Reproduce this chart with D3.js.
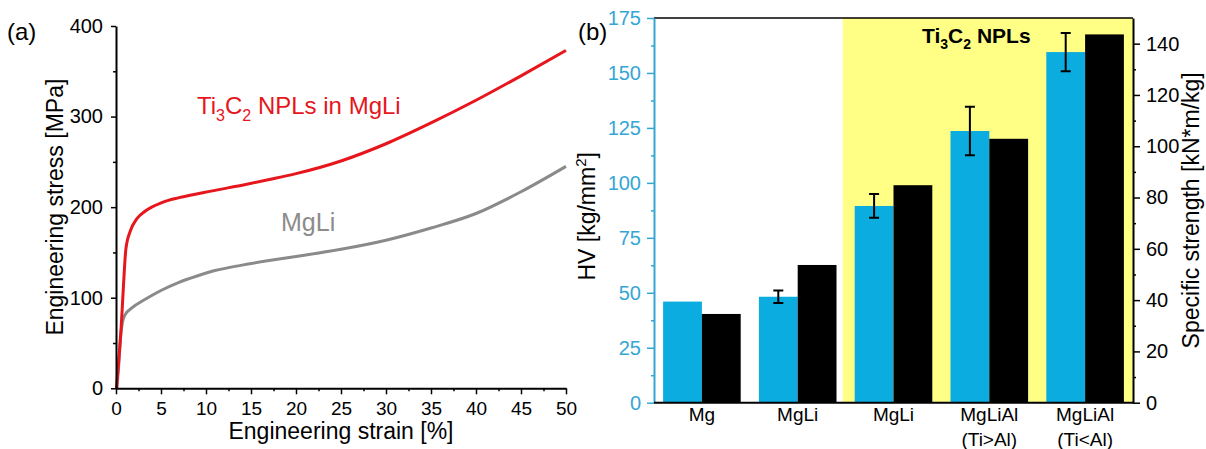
<!DOCTYPE html>
<html>
<head>
<meta charset="utf-8">
<script src="https://cdn.jsdelivr.net/npm/d3@7"></script>
<style>
    body { margin: 0; background: #ffffff; }
    svg { display: block; font-family: "Liberation Sans", Arial, sans-serif; }
    .axis text { font-family: "Liberation Sans", Arial, sans-serif; }
</style>
</head>
<body>
<div id="chart"></div>
<script>
// (a) tensile curves, [strain %, stress MPa]
const compositeCurve = [
    [0.05, 0], [0.3, 30], [0.59, 70], [0.85, 117], [1.1, 154], [1.6, 174], [2.3, 187],
    [3.3, 196], [5.1, 205], [7, 210.5], [10.7, 218], [14.4, 225], [17.3, 231], [20, 237],
    [25, 251], [30, 270], [35, 293], [40, 318], [45, 345], [50, 373]
];
const mgliCurve = [
    [0.1, 0], [0.3, 25], [0.5, 55], [0.7, 72], [1.0, 81], [1.8, 89], [3.2, 98], [5, 108],
    [7, 117], [9, 124], [11, 130], [14, 136], [17, 141], [20, 145.5], [25, 153.5],
    [30, 163.5], [35, 177], [40, 193], [45, 217], [50, 245]
];
const strainTicks = [0, 5, 10, 15, 20, 25, 30, 35, 40, 45, 50];
const stressTicks = [0, 100, 200, 300, 400];

// (b) hardness and specific strength
const categories = ["Mg", "MgLi", "MgLi-Ti", "MgLiAl-1", "MgLiAl-2"];
const categoryLabels = [["Mg"], ["MgLi"], ["MgLi"], ["MgLiAl", "(Ti>Al)"], ["MgLiAl", "(Ti<Al)"]];
const hardness = [46, 48.2, 89.5, 123.6, 159.5];
const hardnessErr = [null, 2.8, 5.4, 11, 8.7];
const specStrength = [34.6, 53.7, 84.8, 102.9, 143.6];
const hvTicks = [0, 25, 50, 75, 100, 125, 150, 175];
const ssTicks = [0, 20, 40, 60, 80, 100, 120, 140];

const width = 1206, height = 449;

const svg = d3.select("#chart").append("svg")
    .attr("width", width)
    .attr("height", height);

svg.append("rect").attr("width", width).attr("height", height).attr("fill", "#ffffff");

// ---------- panel (a) ----------
const paramsA = { left: 116, right: 566, top: 26, bottom: 388.3 };

const xA = d3.scaleLinear().domain([0, 50]).range([paramsA.left, paramsA.right]);
const yA = d3.scaleLinear().domain([0, 400]).range([paramsA.bottom, paramsA.top]);

const line = d3.line()
    .x(d => xA(d[0]))
    .y(d => yA(d[1]))
    .curve(d3.curveMonotoneX);

svg.append("path").datum(mgliCurve)
    .attr("d", line).attr("fill", "none")
    .attr("stroke", "#8a8a8a").attr("stroke-width", 3);

svg.append("path").datum(compositeCurve)
    .attr("d", line).attr("fill", "none")
    .attr("stroke", "#e6161c").attr("stroke-width", 3);

const styleAxis = (g, color, width, size) => {
    g.select(".domain").attr("stroke", color).attr("stroke-width", width);
    g.selectAll(".tick line").attr("stroke", color).attr("stroke-width", 1.5);
    g.selectAll(".tick text").attr("fill", color).style("font-size", size + "px");
};

svg.append("g").attr("class", "axis")
    .attr("transform", `translate(${paramsA.left},0)`)
    .call(d3.axisLeft(yA).tickValues([50, 150, 250, 350]).tickSize(3).tickFormat(""))
    .call(g => g.select(".domain").remove())
    .call(g => g.selectAll("line").attr("stroke-width", 1.5));

svg.append("g").attr("class", "axis")
    .attr("transform", `translate(0,${paramsA.bottom})`)
    .call(d3.axisBottom(xA).tickValues(d3.range(2.5, 50, 5)).tickSize(3).tickFormat(""))
    .call(g => g.select(".domain").remove())
    .call(g => g.selectAll("line").attr("stroke-width", 1.5));

svg.append("g").attr("class", "axis")
    .attr("transform", `translate(${paramsA.left},0)`)
    .call(d3.axisLeft(yA).tickValues(stressTicks).tickSize(5).tickSizeOuter(0).tickPadding(8))
    .call(g => styleAxis(g, "#000", 2, 20));

svg.append("g").attr("class", "axis")
    .attr("transform", `translate(0,${paramsA.bottom})`)
    .call(d3.axisBottom(xA).tickValues(strainTicks).tickSize(6).tickSizeOuter(0).tickPadding(7))
    .call(g => styleAxis(g, "#000", 2, 19));

svg.append("text")
    .attr("x", (paramsA.left + paramsA.right) / 2).attr("y", 439)
    .attr("text-anchor", "middle").style("font-size", "23px")
    .text("Engineering strain [%]");

svg.append("text")
    .attr("transform", `translate(63,${(paramsA.top + paramsA.bottom) / 2}) rotate(-90)`)
    .attr("text-anchor", "middle").style("font-size", "23px")
    .text("Engineering stress [MPa]");

const redLabel = svg.append("text")
    .attr("x", 197).attr("y", 114)
    .attr("fill", "#e6161c").style("font-size", "24px");
redLabel.append("tspan").text("Ti");
redLabel.append("tspan").attr("dy", 7).style("font-size", "16px").text("3");
redLabel.append("tspan").attr("dy", -7).text("C");
redLabel.append("tspan").attr("dy", 7).style("font-size", "16px").text("2");
redLabel.append("tspan").attr("dy", -7).text(" NPLs in MgLi");

svg.append("text")
    .attr("x", 281).attr("y", 231)
    .attr("fill", "#8c8c8c").style("font-size", "25px")
    .text("MgLi");

svg.append("text").attr("x", 7).attr("y", 40).style("font-size", "24px").text("(a)");

// ---------- panel (b) ----------
const paramsB = { left: 654, right: 1133, top: 18, bottom: 402.7 };
const blue = "#0badE0";
const axisBlue = "#34a6d4";

const x0 = d3.scaleBand()
    .domain(categories)
    .range([paramsB.left, paramsB.right])
    .paddingInner(0.19)
    .paddingOuter(0.095);

const x1 = d3.scaleBand()
    .domain(["hv", "ss"])
    .range([0, x0.bandwidth()]);

const yL = d3.scaleLinear().domain([0, 175]).range([paramsB.bottom, paramsB.top]);
const yR = d3.scaleLinear().domain([0, 150]).range([paramsB.bottom, paramsB.top]);

// shaded region for Ti3C2 samples
svg.append("rect")
    .attr("x", x0(categories[2]) - 12)
    .attr("y", paramsB.top)
    .attr("width", paramsB.right - x0(categories[2]) + 12)
    .attr("height", paramsB.bottom - paramsB.top)
    .attr("fill", "#ffff85");

const groups = svg.append("g").selectAll("g")
    .data(categories)
    .join("g")
    .attr("transform", d => `translate(${x0(d)},0)`);

groups.append("rect")
    .attr("x", x1("hv"))
    .attr("y", (d, i) => yL(hardness[i]))
    .attr("width", x1.bandwidth())
    .attr("height", (d, i) => paramsB.bottom - yL(hardness[i]))
    .attr("fill", blue);

groups.append("rect")
    .attr("x", x1("ss"))
    .attr("y", (d, i) => yR(specStrength[i]))
    .attr("width", x1.bandwidth())
    .attr("height", (d, i) => paramsB.bottom - yR(specStrength[i]))
    .attr("fill", "#000");

// error bars
const errGroups = groups.filter((d, i) => hardnessErr[i] !== null);
const cx = x1("hv") + x1.bandwidth() / 2;
errGroups.append("path")
    .attr("d", d => {
        const i = categories.indexOf(d);
        const hi = yL(hardness[i] + hardnessErr[i]);
        const lo = yL(hardness[i] - hardnessErr[i]);
        return `M${cx},${hi}V${lo}M${cx - 5},${hi}H${cx + 5}M${cx - 5},${lo}H${cx + 5}`;
    })
    .attr("fill", "none")
    .attr("stroke", "#000")
    .attr("stroke-width", 2);

// top frame
svg.append("line")
    .attr("x1", paramsB.left).attr("x2", paramsB.right)
    .attr("y1", paramsB.top).attr("y2", paramsB.top)
    .attr("stroke", "#000").attr("stroke-width", 1.5);

// left axis (HV)
svg.append("g").attr("class", "axis")
    .attr("transform", `translate(${paramsB.left},0)`)
    .call(d3.axisLeft(yL).tickValues(d3.range(12.5, 175, 25)).tickSize(3).tickFormat(""))
    .call(g => g.select(".domain").remove())
    .call(g => g.selectAll("line").attr("stroke", axisBlue).attr("stroke-width", 1.5));

svg.append("g").attr("class", "axis")
    .attr("transform", `translate(${paramsB.left},0)`)
    .call(d3.axisLeft(yL).tickValues(hvTicks).tickSize(7).tickSizeOuter(0).tickPadding(6))
    .call(g => styleAxis(g, axisBlue, 2, 20));

// right axis (specific strength)
svg.append("g").attr("class", "axis")
    .attr("transform", `translate(${paramsB.right},0)`)
    .call(d3.axisRight(yR).tickValues(d3.range(10, 150, 20)).tickSize(3).tickFormat(""))
    .call(g => g.select(".domain").remove())
    .call(g => g.selectAll("line").attr("stroke-width", 1.5));

svg.append("g").attr("class", "axis")
    .attr("transform", `translate(${paramsB.right},0)`)
    .call(d3.axisRight(yR).tickValues(ssTicks).tickSize(7).tickSizeOuter(0).tickPadding(6))
    .call(g => styleAxis(g, "#000", 2, 20));

// bottom axis line and category labels
svg.append("line")
    .attr("x1", paramsB.left).attr("x2", paramsB.right)
    .attr("y1", paramsB.bottom).attr("y2", paramsB.bottom)
    .attr("stroke", "#000").attr("stroke-width", 2);

const catText = svg.append("g").selectAll("text")
    .data(categories)
    .join("text")
    .attr("x", d => x0(d) + x0.bandwidth() / 2)
    .attr("y", 421)
    .attr("text-anchor", "middle")
    .style("font-size", "19px");

catText.selectAll("tspan")
    .data((d, i) => categoryLabels[i])
    .join("tspan")
    .attr("x", function () { return this.parentNode.getAttribute("x"); })
    .attr("dy", (d, j) => j === 0 ? 0 : 25)
    .text(d => d);

// axis titles
const hvTitle = svg.append("text")
    .attr("transform", `translate(595,${(paramsB.top + paramsB.bottom) / 2 + 6}) rotate(-90)`)
    .attr("text-anchor", "middle").style("font-size", "23px");
hvTitle.append("tspan").text("HV [kg/mm");
hvTitle.append("tspan").attr("dy", -9).style("font-size", "15px").text("2");
hvTitle.append("tspan").attr("dy", 9).text("]");

svg.append("text")
    .attr("transform", `translate(1199,${(paramsB.top + paramsB.bottom) / 2}) rotate(-90)`)
    .attr("text-anchor", "middle").style("font-size", "23px")
    .text("Specific strength [kN*m/kg]");

const tiLabel = svg.append("text")
    .attr("x", 922).attr("y", 43)
    .style("font-size", "21px").style("font-weight", "bold");
tiLabel.append("tspan").text("Ti");
tiLabel.append("tspan").attr("dy", 6).style("font-size", "14px").text("3");
tiLabel.append("tspan").attr("dy", -6).text("C");
tiLabel.append("tspan").attr("dy", 6).style("font-size", "14px").text("2");
tiLabel.append("tspan").attr("dy", -6).text(" NPLs");

svg.append("text").attr("x", 578).attr("y", 40).style("font-size", "24px").text("(b)");
</script>
</body>
</html>
